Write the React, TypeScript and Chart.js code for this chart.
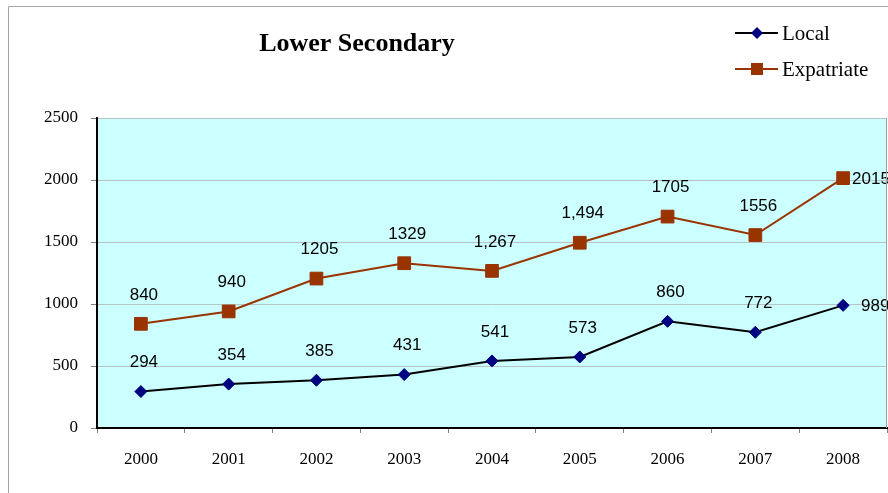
import React, { useEffect, useRef } from "react";
import { Chart, registerables } from "chart.js";

Chart.register(...registerables);

const years = ["2000", "2001", "2002", "2003", "2004", "2005", "2006", "2007", "2008"];
const localValues = [294, 354, 385, 431, 541, 573, 860, 772, 989];
const expatValues = [840, 940, 1205, 1329, 1267, 1494, 1705, 1556, 2015];
const localLabels = ["294", "354", "385", "431", "541", "573", "860", "772", "989"];
const expatLabels = ["840", "940", "1205", "1329", "1,267", "1,494", "1705", "1556", "2015"];
const yTicks = [0, 500, 1000, 1500, 2000, 2500];
const titleText = "Lower Secondary";
const seriesNames = ["Local", "Expatriate"];

const W = 888;
const H = 493;
const LOCAL_LINE = "#000000";
const LOCAL_MARK = "#000080";
const EXPAT = "#993300";
const SERIF = "'Liberation Serif', 'Times New Roman', serif";
const SANS = "'Liberation Sans', Arial, sans-serif";

const decorPlugin = {
  id: "decor",
  beforeDraw(chart: any) {
    const { ctx, chartArea } = chart;
    ctx.save();
    ctx.fillStyle = "#ffffff";
    ctx.fillRect(0, 0, W, H);
    ctx.strokeStyle = "#a6a6a6";
    ctx.lineWidth = 1;
    ctx.beginPath();
    ctx.moveTo(8.5, H);
    ctx.lineTo(8.5, 6.5);
    ctx.lineTo(W, 6.5);
    ctx.stroke();
    ctx.fillStyle = "#CCFFFF";
    ctx.fillRect(chartArea.left, chartArea.top, chartArea.right - chartArea.left, chartArea.bottom - chartArea.top);
    ctx.restore();
  },
  afterDatasetsDraw(chart: any) {
    const { ctx } = chart;
    ctx.save();
    ctx.font = `17px ${SANS}`;
    ctx.fillStyle = "#000";
    ctx.textBaseline = "middle";
    const sets = [localLabels, expatLabels];
    sets.forEach((labels, di) => {
      const meta = chart.getDatasetMeta(di);
      meta.data.forEach((pt: any, i: number) => {
        const last = i === labels.length - 1;
        if (last) {
          ctx.textAlign = "left";
          ctx.fillText(labels[i], pt.x + 18 - (di === 1 ? 9 : 0), pt.y + 1);
        } else {
          ctx.textAlign = "center";
          ctx.fillText(labels[i], pt.x + 3, pt.y - 29);
        }
      });
    });
    ctx.restore();
  },
  afterDraw(chart: any) {
    const { ctx, chartArea } = chart;
    ctx.save();
    ctx.strokeStyle = "#a0a0a0";
    ctx.lineWidth = 1;
    ctx.beginPath();
    ctx.moveTo(chartArea.right - 0.5, chartArea.top);
    ctx.lineTo(chartArea.right - 0.5, chartArea.bottom);
    ctx.stroke();
    ctx.fillStyle = "#000";
    ctx.font = `bold 26px ${SERIF}`;
    ctx.textAlign = "center";
    ctx.textBaseline = "middle";
    ctx.fillText(titleText, 357, 44);
    const items = [
      { name: seriesNames[0], line: LOCAL_LINE, mark: LOCAL_MARK, shape: "diamond", y: 33 },
      { name: seriesNames[1], line: EXPAT, mark: EXPAT, shape: "square", y: 69 },
    ];
    items.forEach((it) => {
      ctx.strokeStyle = it.line;
      ctx.lineWidth = 2;
      ctx.beginPath();
      ctx.moveTo(735, it.y);
      ctx.lineTo(778, it.y);
      ctx.stroke();
      ctx.fillStyle = it.mark;
      ctx.beginPath();
      if (it.shape === "diamond") {
        ctx.moveTo(757, it.y - 6);
        ctx.lineTo(763, it.y);
        ctx.lineTo(757, it.y + 6);
        ctx.lineTo(751, it.y);
        ctx.closePath();
      } else {
        ctx.rect(751, it.y - 6, 12, 12);
      }
      ctx.fill();
      ctx.fillStyle = "#000";
      ctx.font = `21px ${SERIF}`;
      ctx.textAlign = "left";
      ctx.fillText(it.name, 782, it.y + 1);
    });
    ctx.restore();
  },
};

export default function App() {
  const ref = useRef<HTMLCanvasElement | null>(null);
  useEffect(() => {
    if (!ref.current) return;
    const chart = new Chart(ref.current, {
      type: "line",
      data: {
        labels: years,
        datasets: [
          {
            label: seriesNames[0],
            data: localValues,
            borderColor: LOCAL_LINE,
            borderWidth: 2,
            backgroundColor: LOCAL_MARK,
            pointBackgroundColor: LOCAL_MARK,
            pointBorderColor: LOCAL_MARK,
            pointBorderWidth: 1,
            pointStyle: "rectRot",
            pointRadius: 6,
            tension: 0,
          },
          {
            label: seriesNames[1],
            data: expatValues,
            borderColor: EXPAT,
            borderWidth: 2,
            backgroundColor: EXPAT,
            pointBackgroundColor: EXPAT,
            pointBorderColor: EXPAT,
            pointBorderWidth: 1,
            pointStyle: "rect",
            pointRadius: 9,
            tension: 0,
          },
        ],
      },
      options: {
        responsive: false,
        animation: false,
        layout: { autoPadding: false, padding: { top: 118, right: 1, left: 0, bottom: 0 } },
        plugins: {
          legend: { display: false },
          title: { display: false },
          tooltip: { enabled: false },
        },
        scales: {
          x: {
            offset: true,
            grid: {
              offset: true,
              drawOnChartArea: false,
              drawTicks: true,
              tickLength: 5,
              tickColor: "#808080",
            },
            border: { display: true, color: "#000", width: 2 },
            ticks: {
              color: "#000",
              font: { family: SERIF, size: 17 },
              padding: 16,
              maxRotation: 0,
            },
            afterFit: (s: any) => {
              s.height = 65;
              s.paddingLeft = 0;
              s.paddingRight = 0;
            },
          },
          y: {
            min: 0,
            max: 2500,
            afterBuildTicks: (s: any) => {
              s.ticks = yTicks.map((v) => ({ value: v }));
            },
            grid: {
              color: "#b8c4c4",
              lineWidth: 1,
              drawTicks: true,
              tickLength: 6,
              tickColor: "#808080",
            },
            border: { display: true, color: "#000", width: 2 },
            ticks: {
              color: "#000",
              font: { family: SERIF, size: 17 },
              padding: 13,
              callback: (v: any) => String(v),
            },
            afterFit: (s: any) => {
              s.width = 97;
            },
          },
        },
      },
      plugins: [decorPlugin],
    });
    return () => chart.destroy();
  }, []);
  return (
    <div style={{ position: "fixed", left: 0, top: 0, width: W, height: H, background: "#fff" }}>
      <canvas ref={ref} width={W} height={H} style={{ width: W, height: H, display: "block" }} />
    </div>
  );
}
